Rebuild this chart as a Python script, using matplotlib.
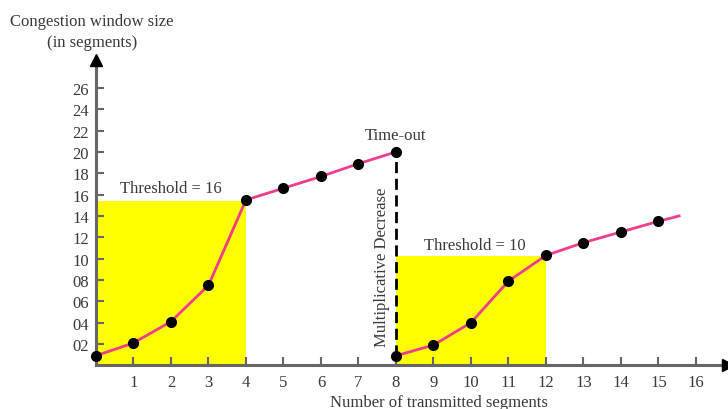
import matplotlib.pyplot as plt

# values
seg1_x = [0, 1, 2, 3, 4, 5, 6, 7, 8]
seg1_y = [0.9, 2.1, 4.1, 7.5, 15.5, 16.6, 17.7, 18.9, 20.0]
seg2_x = [8, 9, 10, 11, 12, 13, 14, 15]
seg2_y = [0.9, 1.9, 4.0, 7.9, 10.3, 11.5, 12.5, 13.5]
tail_x = [15, 15.55]
tail_y = [13.5, 14.0]
thresholds = [15.4, 10.2]
x_ticks = list(range(1, 17))
y_ticks = list(range(2, 27, 2))
y_labels = ['%02d' % v for v in y_ticks]

txt = '#3a3a3a'
axis_col = '#666666'
plt.rcParams['font.family'] = ['Liberation Serif', 'DejaVu Serif']

fig = plt.figure(figsize=(7.28, 4.10), dpi=100)
ax = fig.add_axes([0.1164, 0.0805, 0.8808, 0.7807])
ax.set_xlim(-0.3, 16.8)
ax.set_ylim(-1, 29)

# slow start regions
ax.fill_between([0, 4], 0, thresholds[0], color='#ffff00', lw=0, zorder=1)
ax.fill_between([8, 12], 0, thresholds[1], color='#ffff00', lw=0, zorder=1)

pink = '#f23d8e'
ax.plot(seg1_x, seg1_y, color=pink, lw=2, zorder=3)
ax.plot(seg2_x, seg2_y, color=pink, lw=2, zorder=3)
ax.plot(tail_x, tail_y, color=pink, lw=2, zorder=3)
ax.plot(seg1_x, seg1_y, 'o', color='black', ms=7, zorder=4, clip_on=False)
ax.plot(seg2_x, seg2_y, 'o', color='black', ms=7, zorder=4, clip_on=False)

# time-out drop
ax.plot([8, 8], [seg2_y[0], seg1_y[-1]], color='black', lw=2,
        ls=(0, (4, 2)), zorder=2)

# axes drawn through origin
for s in ['top', 'right']:
    ax.spines[s].set_visible(False)
ax.spines['left'].set_position(('data', 0))
ax.spines['bottom'].set_position(('data', 0))
ax.spines['left'].set_bounds(0, 28.4)
ax.spines['bottom'].set_bounds(0, 16.7)
for s in ['left', 'bottom']:
    ax.spines[s].set_color(axis_col)
    ax.spines[s].set_linewidth(2.2)
ax.plot(0, 28.6, marker='^', color='black', ms=9, clip_on=False, zorder=5)
ax.plot(16.85, 0, marker='>', color='black', ms=9, clip_on=False, zorder=5)

ax.set_xticks(x_ticks)
ax.set_yticks(y_ticks)
ax.set_yticklabels(y_labels)
ax.tick_params(direction='in', length=6, width=1.5, color=axis_col,
               labelsize=12, labelcolor=txt)
ax.tick_params(axis='x', pad=6)
ax.tick_params(axis='y', pad=5)

# annotations
ax.text(2.0, 16.6, 'Threshold = 16', ha='center', va='center',
        fontsize=12, color=txt)
ax.text(10.1, 11.3, 'Threshold = 10', ha='center', va='center',
        fontsize=12, color=txt)
ax.text(8.0, 21.6, 'Time-out', ha='center', va='center',
        fontsize=12, color=txt)
ax.text(7.62, 9.3, 'Multiplicative Decrease', rotation=90, ha='center',
        va='center', fontsize=12, color=txt)

fig.text(0.126, 0.947, 'Congestion window size', ha='center', va='center',
         fontsize=12, color=txt)
fig.text(0.126, 0.895, '(in segments)', ha='center', va='center',
         fontsize=12, color=txt)
fig.text(0.603, 0.018, 'Number of transmitted segments', ha='center',
         va='center', fontsize=12, color=txt)

fig.savefig('out.png', dpi=100)
